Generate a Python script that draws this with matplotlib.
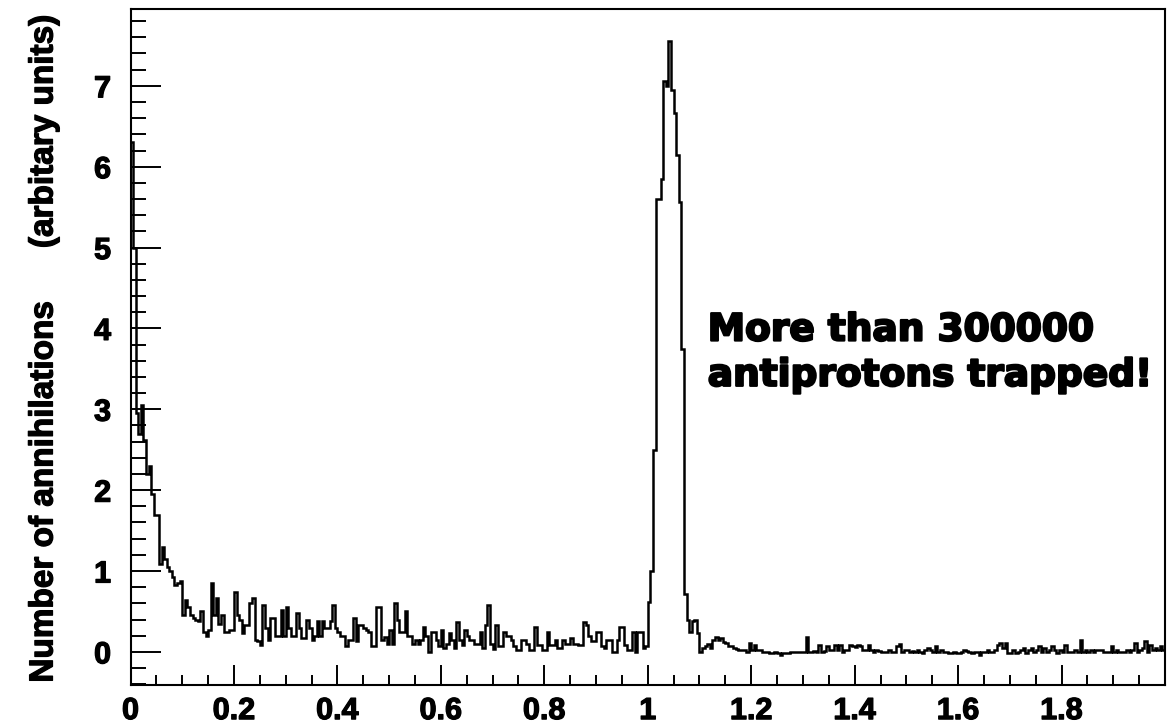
import numpy as np
import matplotlib
matplotlib.use("Agg")
import matplotlib.pyplot as plt
from matplotlib.ticker import FixedLocator, MultipleLocator
import matplotlib.patheffects as pe

# Histogram binning: 400 bins of 0.005 between 0 and 2
x_min, x_max = 0.0, 2.0
n_bins = 400

# Bin contents (arbitrary units), bins 0-199: prompt decay and flat background
decay_counts = [
    6.3, 5.0, 2.95, 2.7, 3.05, 2.62, 2.2, 2.3, 1.95, 1.69,
    1.69, 1.09, 1.3, 1.15, 1.05, 1.0, 0.92, 0.83, 0.85, 0.87,
    0.45, 0.64, 0.55, 0.45, 0.42, 0.4, 0.38, 0.5, 0.25, 0.2,
    0.27, 0.85, 0.45, 0.66, 0.35, 0.45, 0.25, 0.25, 0.27, 0.27,
    0.74, 0.45, 0.4, 0.23, 0.33, 0.33, 0.6, 0.66, 0.15, 0.13,
    0.09, 0.58, 0.3, 0.15, 0.42, 0.42, 0.2, 0.2, 0.52, 0.2,
    0.56, 0.3, 0.2, 0.2, 0.48, 0.3, 0.17, 0.17, 0.4, 0.3,
    0.15, 0.2, 0.38, 0.2, 0.38, 0.3, 0.3, 0.38, 0.58, 0.3,
    0.25, 0.2, 0.2, 0.07, 0.15, 0.15, 0.42, 0.13, 0.33, 0.33,
    0.3, 0.27, 0.25, 0.07, 0.07, 0.56, 0.56, 0.15, 0.18, 0.1,
    0.27, 0.1, 0.6, 0.4, 0.25, 0.25, 0.5, 0.2, 0.2, 0.1,
    0.15, 0.1, 0.15, 0.31, 0.2, 0.0, 0.25, 0.25, 0.15, 0.07,
    0.27, 0.05, 0.1, 0.23, 0.15, 0.05, 0.37, 0.15, 0.09, 0.27,
    0.2, 0.15, 0.15, 0.1, 0.1, 0.25, 0.05, 0.33, 0.58, 0.1,
    0.03, 0.33, 0.07, 0.07, 0.25, 0.19, 0.19, 0.15, 0.07, 0.02,
    0.02, 0.15, 0.15, 0.1, 0.02, 0.02, 0.31, 0.09, 0.09, 0.02,
    0.02, 0.25, 0.09, 0.09, 0.15, 0.05, 0.05, 0.15, 0.1, 0.1,
    0.17, 0.1, 0.1, 0.09, 0.09, 0.37, 0.33, 0.19, 0.13, 0.13,
    0.25, 0.25, 0.07, 0.05, 0.15, 0.15, 0.0, 0.0, 0.15, 0.31,
    0.31, 0.09, 0.02, 0.02, 0.25, 0.0, 0.25, 0.25, 0.05, 0.07,
]

# Bins 200-219: release peak of the trapped antiprotons
peak_counts = [
    0.62, 1.0, 2.5, 5.6, 5.6, 5.85, 7.06, 7.0, 7.55, 6.95,
    6.67, 6.14, 5.56, 3.75, 0.72, 0.4, 0.25, 0.38, 0.4, 0.23,
]

# Bins 220-399: tail after the release
tail_counts = [
    0.0, 0.05, 0.07, 0.1, 0.05, 0.15, 0.18, 0.15, 0.17, 0.12,
    0.11, 0.07, 0.07, 0.05, 0.03, 0.02, 0.02, 0.02, 0.0, 0.11,
    0.02, 0.08, 0.02, 0.02, 0.0, 0.0, 0.0, -0.02, -0.02, 0.0,
    -0.02, -0.04, -0.02, -0.02, -0.01, 0.0, 0.0, 0.0, 0.0, 0.0,
    0.0, 0.18, 0.0, 0.0, 0.01, 0.0, 0.08, 0.0, 0.01, 0.07,
    0.02, 0.02, 0.09, 0.02, 0.08, 0.0, 0.02, 0.02, 0.09, 0.07,
    0.06, 0.09, 0.07, 0.02, 0.02, 0.09, 0.02, 0.0, 0.02, 0.01,
    0.0, 0.0, 0.0, 0.02, 0.0, 0.0, 0.07, 0.1, 0.0, 0.02,
    0.02, 0.0, 0.01, 0.0, 0.02, 0.0, -0.01, 0.02, 0.05, 0.02,
    0.0, 0.07, 0.0, 0.02, 0.0, 0.0, -0.01, -0.02, 0.0, -0.02,
    -0.02, 0.0, 0.02, 0.01, 0.0, -0.02, 0.0, 0.0, -0.04, 0.0,
    0.0, 0.02, 0.0, 0.0, 0.02, 0.08, 0.11, 0.05, 0.11, -0.02,
    -0.02, 0.02, -0.02, 0.0, 0.02, 0.05, -0.02, 0.02, 0.05, 0.0,
    0.02, 0.07, 0.0, 0.05, 0.0, 0.02, 0.07, 0.02, -0.02, 0.02,
    0.0, 0.09, 0.0, 0.0, 0.0, 0.02, 0.0, 0.15, 0.0, 0.02,
    0.0, 0.02, 0.0, 0.02, 0.02, 0.02, 0.0, 0.0, 0.0, 0.07,
    0.0, 0.02, 0.0, 0.0, 0.0, 0.02, 0.0, 0.02, 0.11, 0.0,
    0.02, 0.05, 0.13, 0.0, 0.09, 0.02, 0.05, 0.02, 0.07, 0.02,
]

x_ticks = [0.0, 0.2, 0.4, 0.6, 0.8, 1.0, 1.2, 1.4, 1.6, 1.8]
x_tick_labels = ["0", "0.2", "0.4", "0.6", "0.8", "1", "1.2", "1.4", "1.6", "1.8"]
y_ticks = [0, 1, 2, 3, 4, 5, 6, 7]
y_tick_labels = ["0", "1", "2", "3", "4", "5", "6", "7"]

y_label_main = "Number of annihilations"
y_label_units = "(arbitary units)"
note_lines = ["More than 300000", "antiprotons trapped!"]

counts = np.array(decay_counts + peak_counts + tail_counts)
edges = np.linspace(x_min, x_max, n_bins + 1)

W, H = 1176, 728
fig = plt.figure(figsize=(W / 100, H / 100), dpi=100)
left, right, top, bottom = 130.5, 1165.0, 9.0, 685.0
ax = fig.add_axes([left / W, 1 - bottom / H, (right - left) / W, (bottom - top) / H])

ax.stairs(counts, edges, color="black", linewidth=1.8, baseline=None)

ax.set_xlim(x_min, x_max)
ax.set_ylim(-0.41, 7.95)

heavy = [pe.withStroke(linewidth=0.9, foreground="black")]
tick_font = dict(family="Liberation Sans", weight="bold", size=22)
ax.xaxis.set_major_locator(FixedLocator(x_ticks))
ax.xaxis.set_minor_locator(MultipleLocator(0.05))
ax.yaxis.set_major_locator(FixedLocator(y_ticks))
ax.yaxis.set_minor_locator(MultipleLocator(0.2))
ax.set_xticklabels(x_tick_labels, fontdict=tick_font)
ax.set_yticklabels(y_tick_labels, fontdict=tick_font)
for lab in ax.get_xticklabels() + ax.get_yticklabels():
    lab.set_path_effects(heavy)

ax.tick_params(axis="both", which="both", direction="in", top=False, right=False, width=1.4)
ax.tick_params(axis="y", which="major", length=21.5, pad=14)
ax.tick_params(axis="y", which="minor", length=10.8)
ax.tick_params(axis="x", which="major", length=14.4, pad=8)
ax.tick_params(axis="x", which="minor", length=7.2)

for sp in ax.spines.values():
    sp.set_linewidth(1.5)
    sp.set_color("black")

label_font = dict(family="Liberation Sans", weight="bold", size=24)
fig.text(44 / W, 1 - 491 / H, y_label_main, rotation=90, ha="center", va="center",
         path_effects=heavy, **label_font)
fig.text(44 / W, 1 - 131 / H, y_label_units, rotation=90, ha="center", va="center",
         path_effects=heavy, **label_font)

note_font = dict(family="DejaVu Sans", weight="bold", size=27)
stroke = [pe.withStroke(linewidth=1.6, foreground="black")]
ax.text(1.116, 3.85, note_lines[0], ha="left", va="baseline", path_effects=stroke, **note_font)
ax.text(1.116, 3.29, note_lines[1], ha="left", va="baseline", path_effects=stroke, **note_font)

fig.savefig("out.png", dpi=100)
